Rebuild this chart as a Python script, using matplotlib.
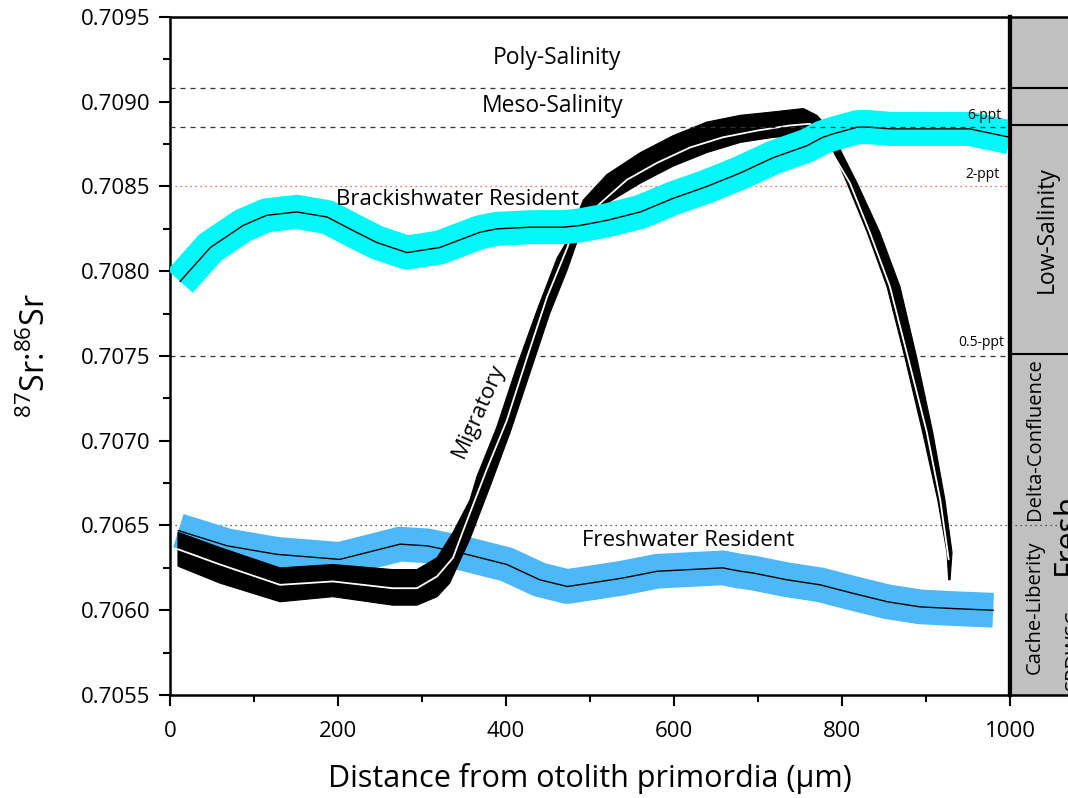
import numpy as np
import matplotlib
matplotlib.use("Agg")
import matplotlib.pyplot as plt
from matplotlib.ticker import MultipleLocator, FormatStrFormatter

plt.rcParams['font.family'] = ['Open Sans', 'DejaVu Sans']
plt.rcParams['mathtext.default'] = 'regular'

# ---------------- data ----------------
# Brackishwater resident (smoothed centre line)
brack_x = [12, 48, 87, 115, 151, 187, 218, 246, 282, 321, 369, 389, 429, 468, 488,
           520, 560, 599, 639, 679, 718, 758, 777, 789, 818, 833, 857, 952, 1000]
brack_y = [0.70794, 0.70814, 0.70827, 0.70833, 0.70835, 0.70832, 0.70824, 0.70817,
           0.70811, 0.70814, 0.70823, 0.70825, 0.70826, 0.70826, 0.70827,
           0.70830, 0.70835, 0.70843, 0.70850, 0.70858, 0.70867, 0.70874, 0.70879,
           0.70881, 0.70885, 0.70885, 0.70884, 0.70884, 0.70879]

# Freshwater resident
fresh_x = [10, 68, 127, 202, 234, 274, 306, 345, 401, 440, 473, 500, 539, 580, 619,
           658, 679, 694, 734, 774, 813, 854, 893, 932, 980]
fresh_y = [0.70647, 0.70638, 0.70633, 0.70630, 0.70634, 0.70639, 0.70638, 0.70634,
           0.70627, 0.70618, 0.70614, 0.70616, 0.70619, 0.70623, 0.70624,
           0.70625, 0.70623, 0.70622, 0.70618, 0.70615, 0.70610, 0.70605, 0.70602,
           0.70601, 0.70600]

# Migratory: centre line and band edges
mig_x = [9.5, 59.5, 131, 194, 265, 294, 318, 337, 349, 377, 401, 425, 449, 473, 480,
         512, 544, 580, 619, 658, 699, 738, 762, 776, 809.5, 833, 857, 878.6, 901, 917, 927]
mig_y = [0.70636, 0.70627, 0.70615, 0.70617, 0.70613, 0.70613, 0.70620, 0.70631,
         0.70647, 0.70683, 0.70712, 0.70749, 0.70785, 0.70814, 0.70824,
         0.70840, 0.70854, 0.70864, 0.70873, 0.70879, 0.70883, 0.70886, 0.70887,
         0.70880, 0.70852, 0.70823, 0.70791, 0.70749, 0.70705, 0.70665, 0.70630]
mig_up_x = [9.5, 59.5, 131, 194, 265, 294, 318, 337, 357, 365.5, 389, 413, 437, 461,
            473, 492, 520, 560, 599, 639, 679, 718, 754, 770, 783, 784.5, 806, 830,
            853.5, 875, 896, 914, 925, 927]
mig_up_y = [0.70646, 0.70637, 0.70625, 0.70627, 0.70624, 0.70624, 0.70631, 0.70646,
            0.70665, 0.70679, 0.70708, 0.70744, 0.70777, 0.70808,
            0.70818, 0.70842, 0.70857, 0.70870, 0.70880, 0.70888, 0.70892, 0.70894,
            0.70896, 0.70892, 0.70885, 0.70877, 0.70852, 0.70823,
            0.70791, 0.70749, 0.70705, 0.70665, 0.70634, 0.70618]
mig_lo_x = [9.5, 59.5, 131, 194, 265, 294, 318, 333, 357, 381, 405, 428.5, 452, 473,
            492, 520, 560, 599, 639, 679, 718, 750, 780, 797.6, 818, 845, 869, 889,
            908, 922.6, 931, 928.6]
mig_lo_y = [0.70626, 0.70616, 0.70605, 0.70608, 0.70603, 0.70603, 0.70608, 0.70616,
            0.70642, 0.70673, 0.70705, 0.70740, 0.70775, 0.70801,
            0.70828, 0.70840, 0.70852, 0.70862, 0.70870, 0.70876, 0.70879, 0.70880,
            0.70877, 0.70872, 0.70852, 0.70823, 0.70791, 0.70749,
            0.70705, 0.70665, 0.70634, 0.70618]

# reference levels
poly_level = 0.70908
meso_level = 0.70885
ppt2_level = 0.7085
ppt05_level = 0.7075
fresh_level = 0.7065

# ---------------- figure ----------------
W, H = 1068, 798
fig = plt.figure(figsize=(W / 100, H / 100), dpi=100)
L, R, T, B = 170, 1010, 17, 695
ax = fig.add_axes([L / W, 1 - B / H, (R - L) / W, (B - T) / H])
ax.set_xlim(0, 1000)
ax.set_ylim(0.7055, 0.7095)

cyan = '#00f8f8'
blue = '#4db8f8'

# freshwater band (thick stroke = confidence envelope)
ax.plot(fresh_x, fresh_y, color=blue, lw=25, solid_capstyle='butt',
        solid_joinstyle='round', zorder=2)
ax.plot(fresh_x, fresh_y, color='black', lw=1.0, zorder=2.1)

# migratory band
px = np.concatenate([mig_up_x, mig_lo_x[::-1]])
py = np.concatenate([mig_up_y, mig_lo_y[::-1]])
ax.fill(px, py, color='black', lw=0.8, ec='black', zorder=3, joinstyle='round')
ax.plot(mig_x, mig_y, color='white', lw=1.3, zorder=3.1, solid_capstyle='round')

# brackish band
ax.plot(brack_x, brack_y, color=cyan, lw=24.5, solid_capstyle='butt',
        solid_joinstyle='round', zorder=4)
ax.plot(brack_x, brack_y, color='black', lw=1.0, zorder=4.1)

# reference lines
ax.axhline(poly_level, color='#333333', ls=(0, (4, 4)), lw=0.9, zorder=1)
ax.axhline(meso_level, color='#333333', ls=(0, (4, 4)), lw=0.9, zorder=4.2)
ax.axhline(ppt2_level, color='#e04040', ls=(0, (1, 3)), lw=0.9, zorder=1)
ax.axhline(ppt05_level, color='#333333', ls=(0, (4, 4)), lw=0.9, zorder=1)
ax.axhline(fresh_level, color='#333333', ls=(0, (1, 3)), lw=0.9, zorder=1)

# annotations
ax.text(461, 0.70926, 'Poly-Salinity', ha='center', va='center', fontsize=16.5)
ax.text(456, 0.708975, 'Meso-Salinity', ha='center', va='center', fontsize=16.5)
ax.text(342, 0.708426, 'Brackishwater Resident', ha='center', va='center', fontsize=16, zorder=5)
ax.text(617, 0.706414, 'Freshwater Resident', ha='center', va='center', fontsize=16)
ax.text(368, 0.70718, 'Migratory', ha='center', va='center', fontsize=16, rotation=66)
ax.text(990, 0.708916, '6-ppt', ha='right', va='center', fontsize=10, zorder=6)
ax.text(988, 0.708568, '2-ppt', ha='right', va='center', fontsize=10)
ax.text(993, 0.707577, '0.5-ppt', ha='right', va='center', fontsize=10)

# axes styling
ax.xaxis.set_major_locator(MultipleLocator(200))
ax.xaxis.set_minor_locator(MultipleLocator(100))
ax.yaxis.set_major_locator(MultipleLocator(0.0005))
ax.yaxis.set_minor_locator(MultipleLocator(0.00025))
ax.yaxis.set_major_formatter(FormatStrFormatter('%.4f'))
ax.tick_params(which='major', direction='out', length=8, width=1.5, labelsize=16, pad=6)
ax.tick_params(axis='x', which='major', pad=11)
ax.tick_params(which='minor', direction='out', length=5, width=1.5)
ax.tick_params(axis='y', which='both', right=False)
ax.tick_params(axis='x', which='both', top=False)
for s in ['left', 'bottom', 'top']:
    ax.spines[s].set_linewidth(1.8)
ax.spines['right'].set_linewidth(3)
ax.set_xlabel('Distance from otolith primordia (µm)', fontsize=22, labelpad=15)
ax.set_ylabel('$^{87}$Sr:$^{86}$Sr', fontsize=23, labelpad=20)

# right-hand zone panel
ax2 = fig.add_axes([R / W, 1 - B / H, 130 / W, (B - T) / H])
ax2.set_xlim(0, 1)
ax2.set_ylim(0.7055, 0.7095)
ax2.set_facecolor('#c0c0c0')
ax2.set_xticks([]); ax2.set_yticks([])
for s in ax2.spines.values():
    s.set_linewidth(1.8)
ax2.spines['left'].set_linewidth(3)
for lvl in [poly_level, meso_level + 0.00001, ppt05_level + 0.00001]:
    ax2.axhline(lvl, color='black', lw=1.5)
ax2.axhline(fresh_level, color='#333333', ls=(0, (1, 3)), lw=0.9)
ax2.text(0.28, 0.708243, 'Low-Salinity', rotation=90, ha='center', va='center', fontsize=16.5)
ax2.text(0.19, 0.70701, 'Delta-Confluence', rotation=90, ha='center', va='center', fontsize=14.5)
ax2.text(0.19, 0.70602, 'Cache-Liberity', rotation=90, ha='center', va='center', fontsize=14.5)
ax2.text(0.44, 0.70645, 'Fresh', rotation=90, ha='center', va='center', fontsize=23)
ax2.text(0.49, 0.70577, 'SRDWSC', rotation=90, ha='center', va='center', fontsize=14.5)

fig.savefig('out.png', dpi=100)
